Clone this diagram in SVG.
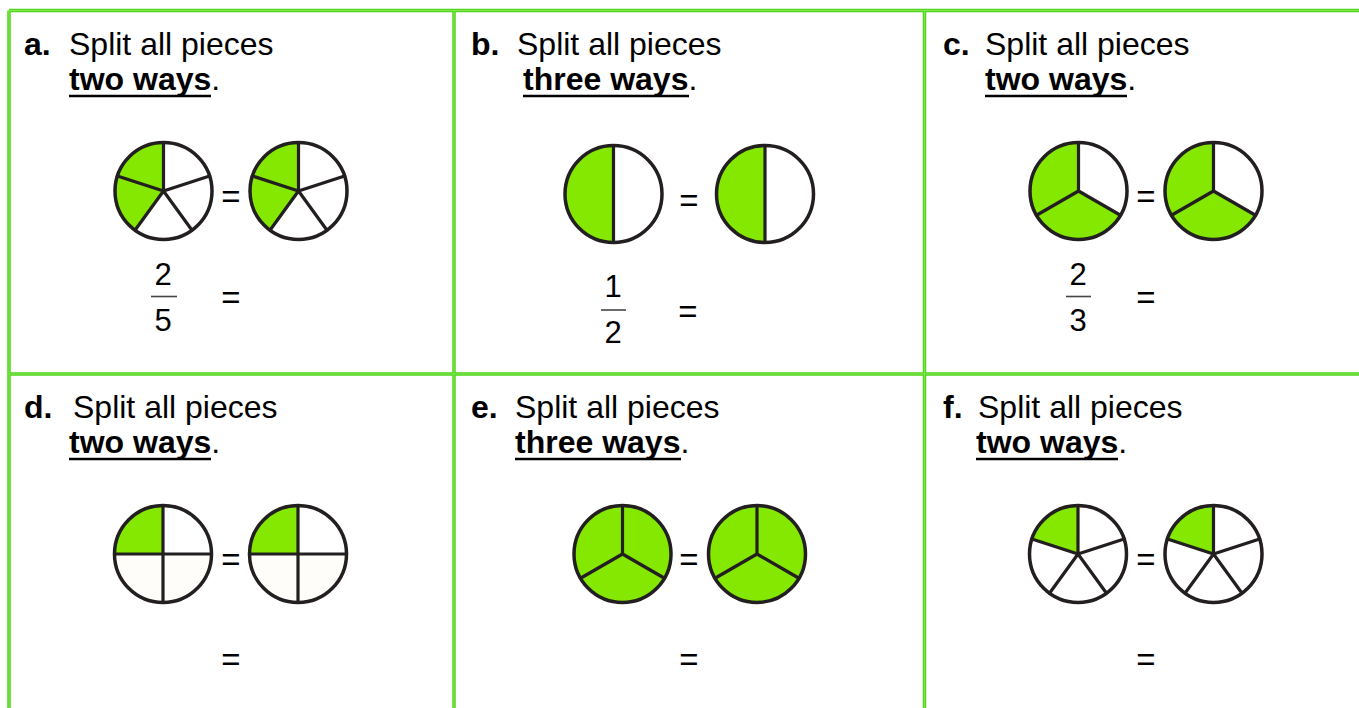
<svg xmlns="http://www.w3.org/2000/svg" width="1359" height="708" viewBox="0 0 1359 708">
<style>
text{font-family:"Liberation Sans",Arial,sans-serif;fill:#000}
.t{font-size:32px}
.b{font-weight:bold}
.eq{font-size:33px;text-anchor:middle}
.fr{font-size:31px;text-anchor:middle}
.grid{stroke:#52d41e;stroke-width:3.5;fill:none}
.gridhi{stroke:#7fea4a;stroke-width:1;fill:none}
.bar{stroke:#444;stroke-width:1.6}
.ul{stroke:#000;stroke-width:2.6}
.bg{fill:#fff}
.g{fill:#84e800}
.sp{stroke:#231f20;stroke-width:3.2;fill:none;stroke-linecap:round}
.ol{stroke:#231f20;stroke-width:3.5;fill:none}
</style>
<defs>
<g id="pieA">
<circle class="bg" r="48.5"/>
<path class="g" d="M0 0L-28.51 39.24A48.5 48.5 0 0 1 0 -48.5Z"/>
<path class="sp" d="M0 0V-48.5M0 0L46.13 -14.99M0 0L28.51 39.24M0 0L-28.51 39.24M0 0L-46.13 -14.99"/>
<circle class="ol" r="48.5"/>
</g>
<g id="pieB">
<circle class="bg" r="48.5"/>
<path class="g" d="M0 -48.5A48.5 48.5 0 0 0 0 48.5Z"/>
<path class="sp" d="M0 -48.5V48.5"/>
<circle class="ol" r="48.5"/>
</g>
<g id="pieC">
<circle class="g" r="48.5"/>
<path class="bg" d="M0 0V-48.5A48.5 48.5 0 0 1 42 24.25Z"/>
<path class="sp" d="M0 0V-48.5M0 0L42 24.25M0 0L-42 24.25"/>
<circle class="ol" r="48.5"/>
</g>
<g id="pieD">
<circle fill="#fffdfa" r="48.5"/>
<path class="bg" d="M0 0V-48.5A48.5 48.5 0 0 1 48.5 0Z"/>
<path class="g" d="M0 0H-48.5A48.5 48.5 0 0 1 0 -48.5Z"/>
<path class="sp" d="M0 -48.5V48.5M-48.5 0H48.5"/>
<circle class="ol" r="48.5"/>
</g>
<g id="pieE">
<circle class="g" r="48.5"/>
<path class="sp" d="M0 0V-48.5M0 0L42 24.25M0 0L-42 24.25"/>
<circle class="ol" r="48.5"/>
</g>
<g id="pieF">
<circle class="bg" r="48.5"/>
<path class="g" d="M0 0L-46.13 -14.99A48.5 48.5 0 0 1 0 -48.5Z"/>
<path class="sp" d="M0 0V-48.5M0 0L46.13 -14.99M0 0L28.51 39.24M0 0L-28.51 39.24M0 0L-46.13 -14.99"/>
<circle class="ol" r="48.5"/>
</g>
</defs>
<rect width="1359" height="708" fill="#fff"/>
<g id="connectors">
<path class="grid" d="M9 10.5H1359M9 374H1359M9 10.5V708M454 10.5V708M924.5 10.5V708"/>
<path class="gridhi" d="M9 10.5H1359M9 374H1359M9 10.5V708M454 10.5V708M924.5 10.5V708"/>
</g>
<g id="panel-a">
<text class="t b" x="24" y="55">a.</text>
<text class="t" x="69" y="55">Split all pieces</text>
<text class="t" x="69" y="90"><tspan class="b">two ways</tspan>.</text>
<line class="ul" x1="69" y1="96" x2="211" y2="96"/>
<use href="#pieA" x="163.5" y="191"/>
<text class="eq" x="231" y="208">=</text>
<use href="#pieA" x="298.5" y="191"/>
<text class="fr" x="163" y="285">2</text>
<line class="bar" x1="151" y1="296.5" x2="177" y2="296.5"/>
<text class="fr" x="163" y="331">5</text>
<text class="eq" x="231" y="309">=</text>
</g>
<g id="panel-b">
<text class="t b" x="471" y="55">b.</text>
<text class="t" x="517" y="55">Split all pieces</text>
<text class="t" x="523" y="90"><tspan class="b">three ways</tspan>.</text>
<line class="ul" x1="523" y1="96" x2="689" y2="96"/>
<use href="#pieB" x="613.5" y="194"/>
<text class="eq" x="689" y="212">=</text>
<use href="#pieB" x="765" y="194"/>
<text class="fr" x="613" y="297">1</text>
<line class="bar" x1="601" y1="310" x2="626" y2="310"/>
<text class="fr" x="613" y="343">2</text>
<text class="eq" x="688" y="323">=</text>
</g>
<g id="panel-c">
<text class="t b" x="943" y="55">c.</text>
<text class="t" x="985" y="55">Split all pieces</text>
<text class="t" x="985" y="90"><tspan class="b">two ways</tspan>.</text>
<line class="ul" x1="985" y1="96" x2="1127" y2="96"/>
<use href="#pieC" x="1078.5" y="191"/>
<text class="eq" x="1146" y="208">=</text>
<use href="#pieC" x="1213.5" y="191"/>
<text class="fr" x="1078" y="285">2</text>
<line class="bar" x1="1066" y1="296.5" x2="1091" y2="296.5"/>
<text class="fr" x="1078" y="331">3</text>
<text class="eq" x="1146" y="309">=</text>
</g>
<g id="panel-d">
<text class="t b" x="24" y="418">d.</text>
<text class="t" x="73" y="418">Split all pieces</text>
<text class="t" x="69" y="453"><tspan class="b">two ways</tspan>.</text>
<line class="ul" x1="69" y1="459" x2="211" y2="459"/>
<use href="#pieD" x="163" y="554"/>
<text class="eq" x="231" y="571">=</text>
<use href="#pieD" x="298" y="554"/>
<text class="eq" x="231" y="671">=</text>
</g>
<g id="panel-e">
<text class="t b" x="471" y="418">e.</text>
<text class="t" x="515" y="418">Split all pieces</text>
<text class="t" x="515" y="453"><tspan class="b">three ways</tspan>.</text>
<line class="ul" x1="515" y1="459" x2="681" y2="459"/>
<use href="#pieE" x="622.5" y="554"/>
<text class="eq" x="689" y="571">=</text>
<use href="#pieE" x="757" y="554"/>
<text class="eq" x="689" y="671">=</text>
</g>
<g id="panel-f">
<text class="t b" x="943" y="418">f.</text>
<text class="t" x="978" y="418">Split all pieces</text>
<text class="t" x="976" y="453"><tspan class="b">two ways</tspan>.</text>
<line class="ul" x1="976" y1="459" x2="1118" y2="459"/>
<use href="#pieF" x="1078" y="554"/>
<text class="eq" x="1146" y="571">=</text>
<use href="#pieF" x="1213.5" y="554"/>
<text class="eq" x="1146" y="671">=</text>
</g>
</svg>
